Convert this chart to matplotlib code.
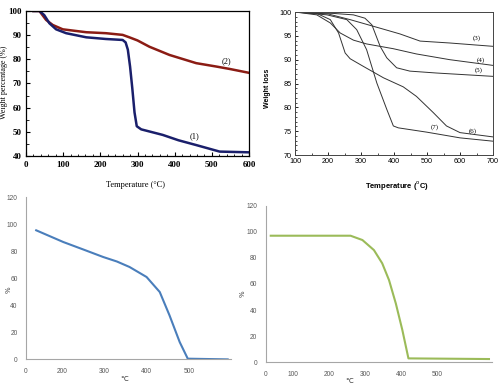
import numpy as np
from matplotlib import pyplot as plt
from matplotlib.ticker import MultipleLocator

# ---- panel a: TGA curves (1) and (2)
tempA1 = [20, 36, 49, 63, 81, 108, 162, 215, 260, 268, 274, 280, 286, 292, 298, 310, 368, 410, 458, 521, 600]
pesoA1 = [100, 100, 98.3, 94.9, 92.4, 90.8, 89.1, 88.4, 88, 87, 84, 77, 68, 58, 52.3, 51, 48.7, 46.5, 44.5, 41.8, 41.5]
tempA2 = [20, 36, 54, 72, 99, 162, 215, 260, 278, 300, 332, 386, 458, 512, 548, 600]
pesoA2 = [100, 100, 96.3, 94.2, 92.4, 91.2, 90.8, 90.1, 89.1, 87.8, 85.2, 81.8, 78.4, 77, 76, 74.4]

# ---- panel b: curves (3)..(7)
tempB3 = [100, 200, 267, 368, 418, 479, 569, 700]
pesoB3 = [100, 99.6, 98.4, 96.4, 95.4, 93.9, 93.5, 92.8]
tempB4 = [100, 166, 207, 237, 277, 317, 398, 468, 569, 700]
pesoB4 = [100, 99.4, 97.7, 95.6, 94.1, 93.3, 92.3, 91.2, 90, 88.8]
tempB5 = [100, 217, 277, 312, 333, 358, 378, 408, 448, 529, 700]
pesoB5 = [100, 99.7, 99.4, 98.7, 97.3, 92.8, 90.4, 88.3, 87.6, 87.2, 86.5]
tempB6 = [100, 166, 207, 232, 252, 267, 307, 368, 428, 468, 519, 559, 600, 700]
pesoB6 = [100, 99.7, 98.4, 95.6, 91.4, 90.2, 88.6, 86.2, 84.3, 82.3, 78.9, 76.1, 74.7, 73.8]
tempB7 = [100, 197, 257, 287, 317, 348, 378, 398, 413, 499, 600, 700]
pesoB7 = [100, 99.4, 98.4, 96.3, 92.1, 85.1, 79.6, 76.1, 75.7, 74.8, 73.6, 72.9]

# ---- panel c / d
tempC = [140, 204, 250, 298, 330, 360, 400, 431, 454, 478, 497, 591]
pesoC = [95.6, 86.9, 81.5, 75.8, 72.5, 68.4, 61, 49.9, 32.6, 12.8, 0.5, 0]
tempD = [38, 260, 293, 325, 348, 367, 386, 404, 421, 645]
pesoD = [97, 97, 93.7, 86, 75.9, 63, 45, 24.8, 3, 2.5]

ticksC = [116, 200, 300, 400, 500]
etiqC = ['0', '200', '300', '400', '500']
ticksD = [24, 100, 200, 300, 400, 500]
etiqD = ['0', '100', '200', '300', '400', '500']

fig = plt.figure(figsize=(5, 3.86), dpi=100)

# panel a
ax1 = fig.add_axes([0.052, 0.596, 0.446, 0.3756])
ax1.plot(tempA2, pesoA2, color='#8b1c14', lw=1.8)
ax1.plot(tempA1, pesoA1, color='#1a1f6b', lw=1.8)
ax1.set_xlim(0, 600)
ax1.set_ylim(40, 100)
ax1.xaxis.set_major_locator(MultipleLocator(100))
ax1.xaxis.set_minor_locator(MultipleLocator(20))
ax1.yaxis.set_major_locator(MultipleLocator(10))
ax1.yaxis.set_minor_locator(MultipleLocator(5))
ax1.tick_params(which='both', direction='in', top=False, right=False)
ax1.tick_params(which='major', length=3, width=0.8)
ax1.tick_params(which='minor', length=1.8, width=0.6)
ax1.tick_params(axis='x', pad=4)
ax1.tick_params(axis='y', pad=3)
for lab in ax1.get_xticklabels() + ax1.get_yticklabels():
    lab.set_family('Liberation Serif')
    lab.set_fontweight('bold')
    lab.set_fontsize(6.5)
ax1.set_xlabel('Temperature (°C)', family='Liberation Serif', fontsize=6)
ax1.set_ylabel('Weight percentage (%)', family='Liberation Serif', fontsize=5.8)
ax1.xaxis.set_label_coords(0.489, -0.17)
ax1.yaxis.set_label_coords(-0.079, 0.51)
ax1.text(540, 79.3, '(2)', family='Liberation Serif', fontsize=6, ha='center', va='center')
ax1.text(453, 48, '(1)', family='Liberation Serif', fontsize=6, ha='center', va='center')
for s in ax1.spines.values():
    s.set_linewidth(0.9)

# panel b
ax2 = fig.add_axes([0.59, 0.5984, 0.396, 0.3705])
for t, p in [(tempB3, pesoB3), (tempB4, pesoB4), (tempB5, pesoB5), (tempB6, pesoB6), (tempB7, pesoB7)]:
    ax2.plot(t, p, color='#333333', lw=0.7)
ax2.set_xlim(100, 700)
ax2.set_ylim(70, 100)
ax2.xaxis.set_major_locator(MultipleLocator(100))
ax2.xaxis.set_minor_locator(MultipleLocator(50))
ax2.yaxis.set_major_locator(MultipleLocator(5))
ax2.yaxis.set_minor_locator(MultipleLocator(1))
ax2.tick_params(which='both', direction='in', top=False, right=False, labelsize=5.2)
ax2.tick_params(which='major', length=2.5, width=0.6)
ax2.tick_params(which='minor', length=1.3, width=0.5)
ax2.tick_params(axis='x', pad=2.5)
ax2.tick_params(axis='y', pad=2.5)
ax2.set_xlabel('Temperature ($^{\\rm o}$C)', fontweight='bold', fontsize=5.5, family='Liberation Sans')
ax2.set_ylabel('Weight loss', fontweight='bold', fontsize=5, family='Liberation Sans')
ax2.xaxis.set_label_coords(0.515, -0.17)
ax2.yaxis.set_label_coords(-0.123, 0.465)
for lab in ax2.get_xticklabels() + ax2.get_yticklabels():
    lab.set_family('Liberation Sans')
# nudge the first y label up a hair so it does not touch the x labels
ax2.get_yticklabels()[0].set_va('bottom')
etiquetasB = [('(3)', 650, 94.6), ('(4)', 662, 89.9), ('(5)', 658, 87.8), ('(6)', 640, 75.0), ('(7)', 524, 75.9)]
for txt, x, y in etiquetasB:
    ax2.text(x, y, txt, family='Liberation Serif', fontsize=5, ha='center', va='center')
for s in ax2.spines.values():
    s.set_linewidth(0.7)
    s.set_color('#444444')

# panels c and d, excel style
def estilo_excel(ax, ticks, etiq, xmin, xmax):
    ax.set_xlim(xmin, xmax)
    ax.set_ylim(0, 120)
    ax.set_yticks(np.arange(0, 121, 20))
    ax.set_xticks(ticks)
    ax.set_xticklabels(etiq)
    ax.spines['top'].set_visible(False)
    ax.spines['right'].set_visible(False)
    for s in ['left', 'bottom']:
        ax.spines[s].set_color('#a6a6a6')
        ax.spines[s].set_linewidth(0.8)
    ax.tick_params(length=0, labelsize=4.8, labelcolor='#595959', pad=6)
    for lab in ax.get_xticklabels() + ax.get_yticklabels():
        lab.set_family('Liberation Sans')

ax3 = fig.add_axes([0.052, 0.069, 0.411, 0.4197])
ax3.plot(tempC, pesoC, color='#4a7ebb', lw=1.5)
estilo_excel(ax3, ticksC, etiqC, 116, 600)
ax3.set_xlabel('℃', fontsize=5, color='#404040')
ax3.set_ylabel('%', fontsize=5, color='#404040')
ax3.xaxis.set_label_coords(0.48, -0.105)
ax3.yaxis.set_label_coords(-0.07, 0.43)

ax4 = fig.add_axes([0.5314, 0.0614, 0.453, 0.4057])
ax4.plot(tempD, pesoD, color='#9bbb59', lw=1.5)
estilo_excel(ax4, ticksD, etiqD, 24, 654)
ax4.set_xlabel('℃', fontsize=5, color='#404040')
ax4.set_ylabel('%', fontsize=5, color='#404040')
ax4.xaxis.set_label_coords(0.37, -0.1)
ax4.yaxis.set_label_coords(-0.09, 0.44)

fig.savefig('out.png', dpi=100)
